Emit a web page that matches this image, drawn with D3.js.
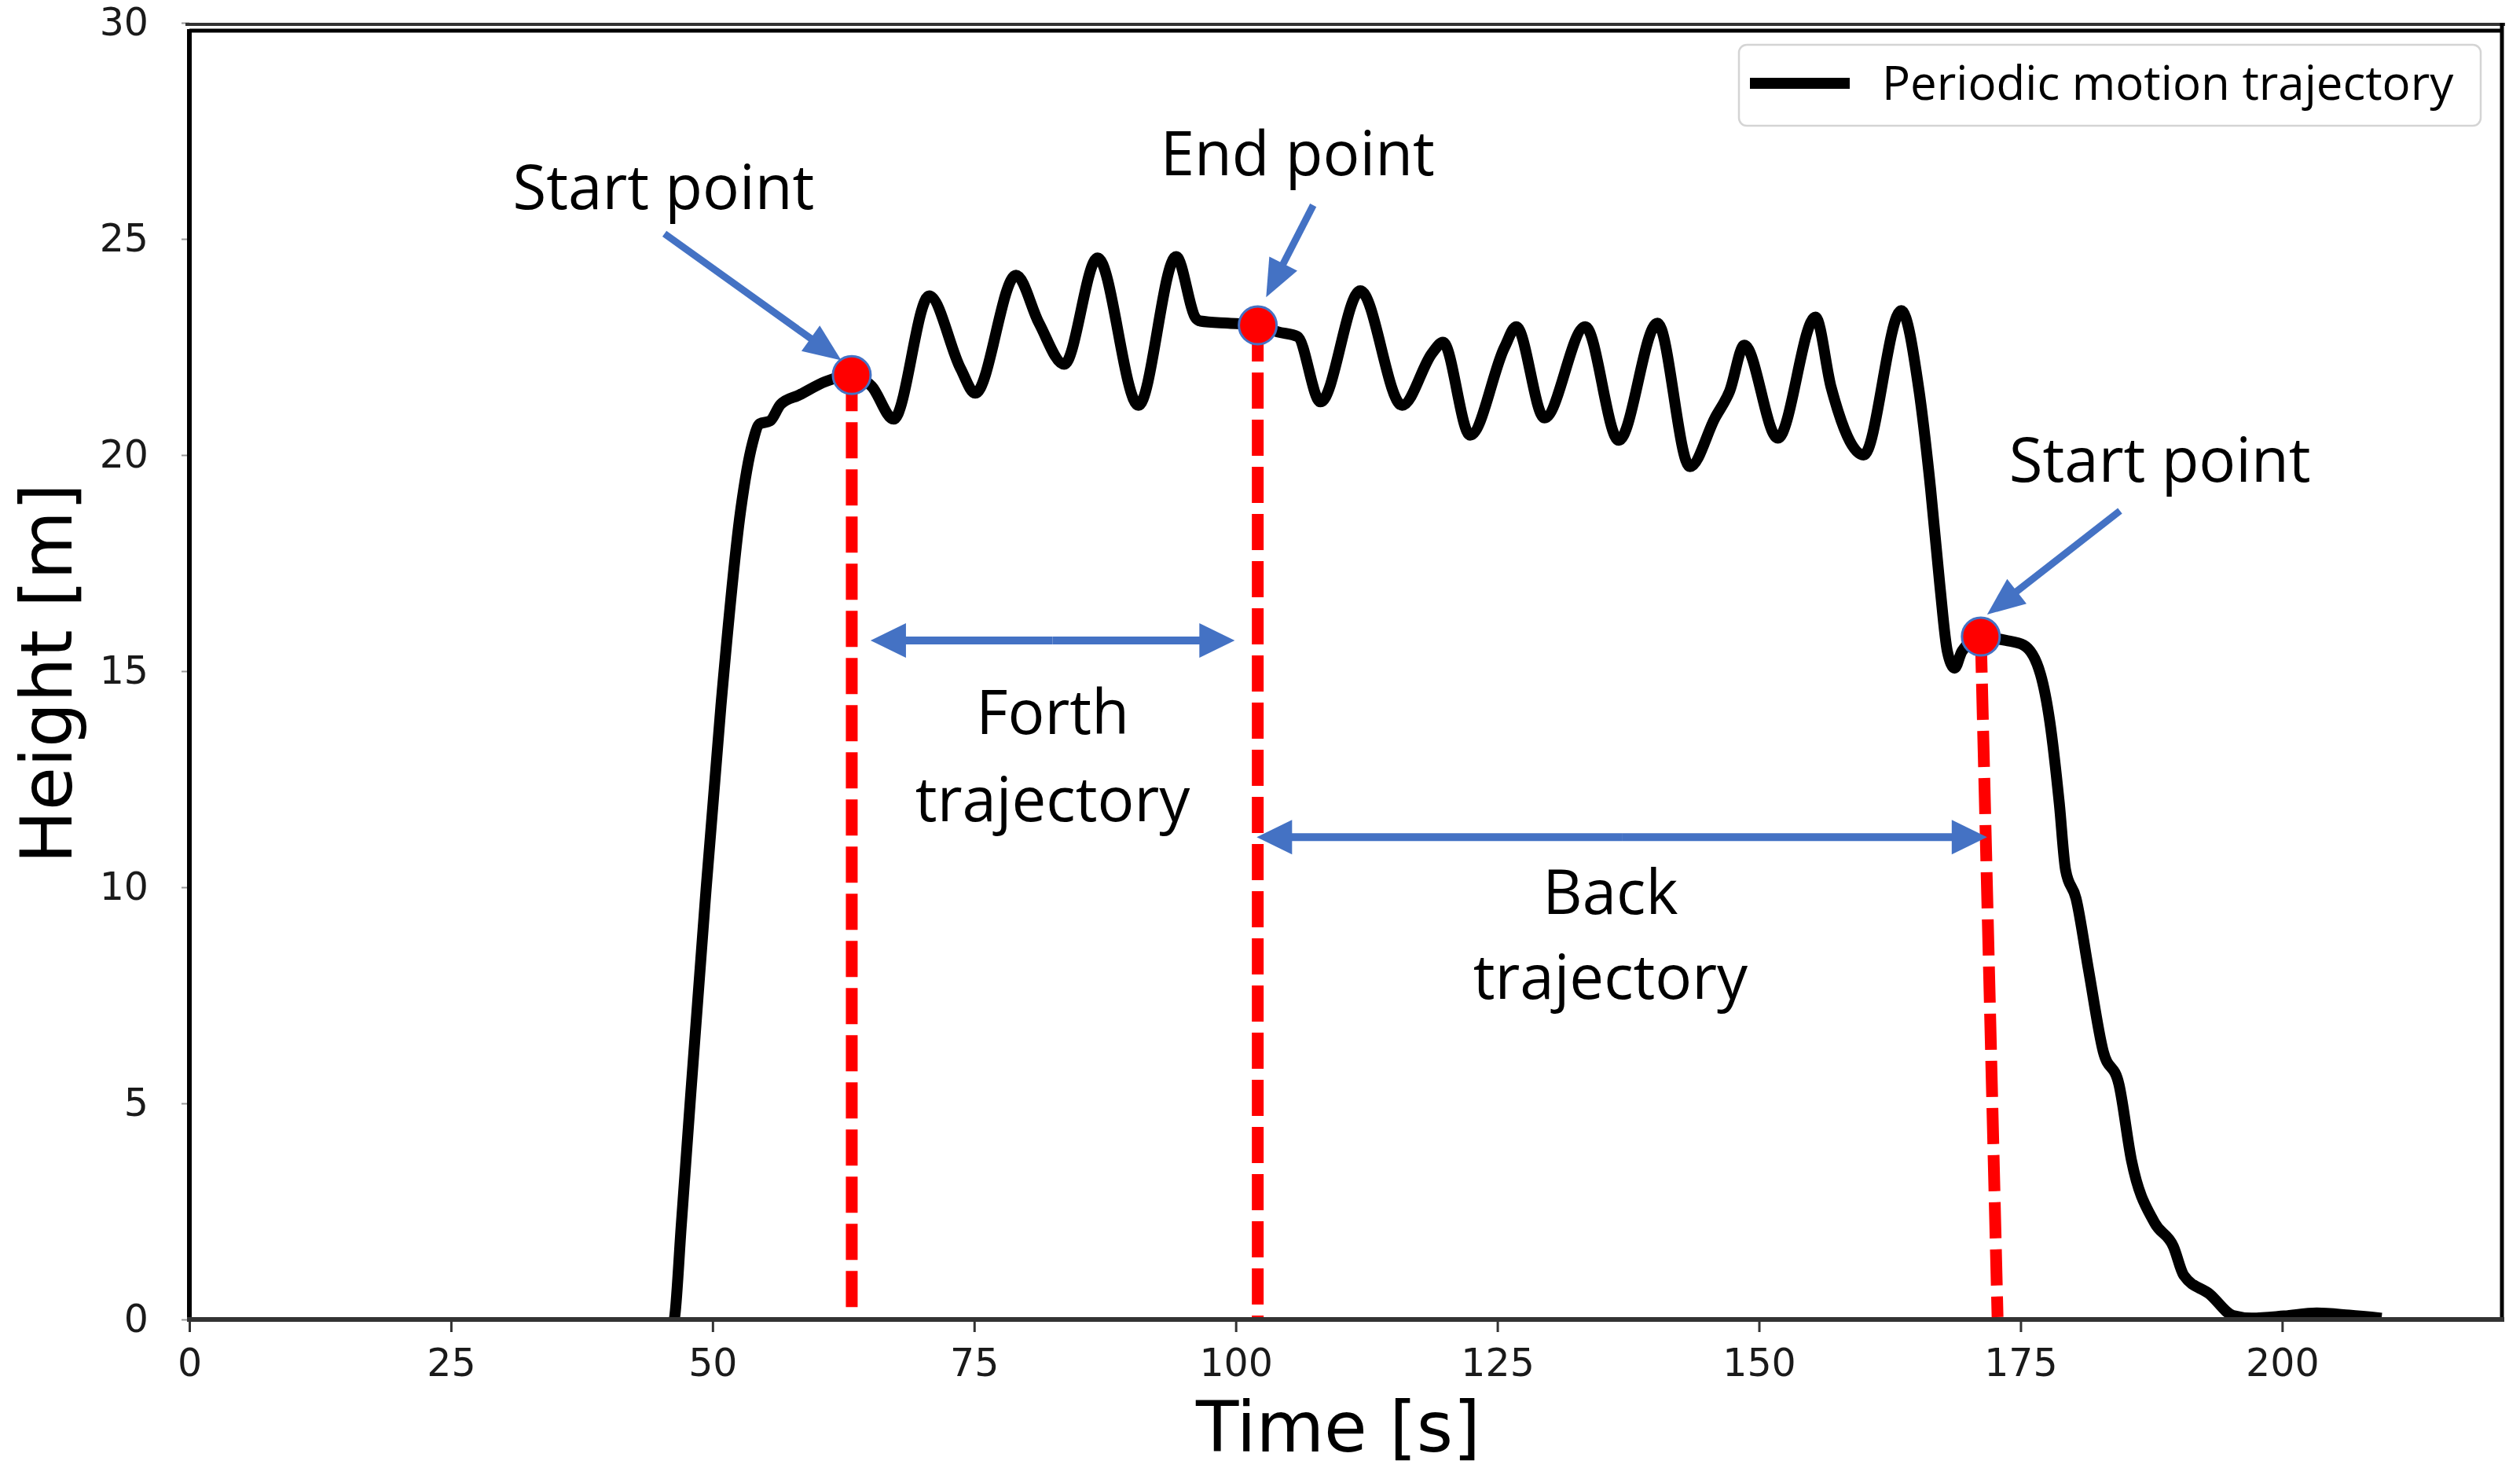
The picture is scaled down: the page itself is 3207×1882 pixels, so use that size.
<!DOCTYPE html>
<html>
<head>
<meta charset="utf-8">
<script src="https://cdn.jsdelivr.net/npm/d3@7"></script>
<style>
  body { margin: 0; background: #fff; }
  svg { display: block; }
</style>
</head>
<body>
<script>
// trajectory (time in s, height in m)
var time = [46.0, 46.4, 47.0, 47.9, 49.3, 50.8, 52.7, 53.8, 54.5, 55.5, 56.5, 58.3, 60.8, 63.3,
  65.2, 67.3, 70.7, 73.7, 75.1, 79.0, 81.2, 83.6, 86.8, 90.7, 94.3, 96.2, 96.6, 99.3, 102.1,
  104.0, 105.9, 108.1, 111.9, 115.9, 118.8, 119.8, 122.4, 125.7, 126.8, 129.5, 133.4, 136.6,
  140.3, 143.4, 145.8, 147.2, 148.6, 151.8, 155.4, 156.9, 160.0, 163.6, 165.3, 166.4, 167.3,
  168.0, 168.7, 169.4, 171.2, 173.6, 175.3, 176.9, 177.8, 178.7, 179.3, 180.3, 181.5, 182.9,
  184.4, 185.6, 187.8, 189.6, 190.6, 193.1, 195.3, 197.1, 200.2, 203.3, 206.4, 209.5];
var height = [-0.3, 0.1, 2.15, 5.17, 9.7, 14.2, 18.75, 20.26, 20.72, 20.79, 21.17, 21.39, 21.7, 21.85,
  21.59, 20.83, 23.68, 22.0, 21.43, 24.16, 23.05, 22.1, 24.56, 21.15, 24.59, 23.16, 23.1, 23.05, 23.01,
  22.85, 22.74, 21.23, 23.8, 21.15, 22.37, 22.61, 20.46, 22.5, 22.97, 20.86, 22.97, 20.34,
  23.05, 19.73, 20.86, 21.48, 22.54, 20.39, 23.19, 21.56, 20.0, 23.34, 21.48, 19.22, 16.95,
  15.46, 15.07, 15.46, 15.78, 15.71, 15.6, 14.93, 13.82, 11.94, 10.4, 9.74, 8.08, 6.2,
  5.44, 3.68, 2.24, 1.69, 1.02, 0.58, 0.09, 0.03, 0.08, 0.15, 0.1, 0.03];

var xTicks = [0, 25, 50, 75, 100, 125, 150, 175, 200];
var yTicks = [0, 5, 10, 15, 20, 25, 30];

// marked points: start, end, start
var markT = [63.3, 102.1, 171.2];
var markH = [21.85, 23.0, 15.8];
// foot of each red dashed line
var footT = [63.3, 102.1, 172.8];

// annotation texts
var labelText = ["Start point", "End point", "Start point", "Forth", "trajectory", "Back", "trajectory"];
var labelT = [30.9, 105.9, 173.9, 82.5, 82.5, 135.8, 135.8];
var labelH = [25.69, 26.47, 19.39, 13.54, 11.52, 9.39, 7.41];
var labelAnchor = ["start", "middle", "start", "middle", "middle", "middle", "middle"];

// pointer arrows [t0, h0, t1, h1]
var pointers = [[45.4, 25.12, 62.3, 22.19], [107.4, 25.78, 102.9, 23.65], [184.5, 18.71, 171.8, 16.31]];
// span arrows [tLeft, tRight, h]
var spans = [[65.1, 99.9, 15.71], [102.0, 171.8, 11.16]];

var legendLabel = "Periodic motion trajectory";

var W = 3207, H = 1882;
var blue = "#4472C4";

var svg = d3.select("body").append("svg")
    .attr("width", W)
    .attr("height", H);

var x = d3.scaleLinear().domain([0, 221]).range([241, 3184]);
var y = d3.scaleLinear().domain([0, 30]).range([1679, 29]);

svg.append("clipPath").attr("id", "plot")
  .append("rect")
    .attr("x", x(0)).attr("y", y(30))
    .attr("width", x(221) - x(0)).attr("height", y(0) - y(30));

// axes
var xAxis = svg.append("g")
    .attr("transform", "translate(0,1679)")
    .call(d3.axisBottom(x).tickValues(xTicks).tickSize(16).tickPadding(21));
xAxis.select(".domain").remove();
xAxis.selectAll("line").attr("stroke", "#333").attr("stroke-width", 3);
xAxis.selectAll("text")
    .style("font-family", "DejaVu Sans")
    .style("font-size", "49px")
    .attr("fill", "#1a1a1a");

var yAxis = svg.append("g")
    .attr("transform", "translate(241,0)")
    .call(d3.axisLeft(y).tickValues(yTicks).tickSize(10).tickPadding(42));
yAxis.select(".domain").remove();
yAxis.selectAll("line").attr("stroke", "#999").attr("stroke-width", 2);
yAxis.selectAll("text")
    .style("font-family", "DejaVu Sans")
    .style("font-size", "49px")
    .attr("fill", "#1a1a1a");

// trajectory
var pts = time.map(function(t, i) { return [t, height[i]]; });
var line = d3.line()
    .x(function(d) { return x(d[0]); })
    .y(function(d) { return y(d[1]); })
    .curve(d3.curveMonotoneX);

svg.append("path")
    .datum(pts)
    .attr("clip-path", "url(#plot)")
    .attr("d", line)
    .attr("fill", "none")
    .attr("stroke", "#000")
    .attr("stroke-width", 14)
    .attr("stroke-linejoin", "round");

// frame (top edge is doubled in the original)
svg.append("line").attr("x1", 236).attr("x2", 3188).attr("y1", 31).attr("y2", 31)
    .attr("stroke", "#333").attr("stroke-width", 4);
svg.append("line").attr("x1", 241).attr("x2", 3184).attr("y1", 39).attr("y2", 39)
    .attr("stroke", "#000").attr("stroke-width", 5);
svg.append("line").attr("x1", 241).attr("x2", 241).attr("y1", 37).attr("y2", 1682)
    .attr("stroke", "#000").attr("stroke-width", 6);
svg.append("line").attr("x1", 3184).attr("x2", 3184).attr("y1", 29).attr("y2", 1682)
    .attr("stroke", "#000").attr("stroke-width", 5);
svg.append("line").attr("x1", 238).attr("x2", 3187).attr("y1", 1679).attr("y2", 1679)
    .attr("stroke", "#333").attr("stroke-width", 6);

// red dashed drops
svg.selectAll("line.drop")
    .data(markT)
  .enter().append("line")
    .attr("class", "drop")
    .attr("x1", function(d) { return x(d); })
    .attr("y1", function(d, i) { return y(markH[i]); })
    .attr("x2", function(d, i) { return x(footT[i]); })
    .attr("y2", y(0) - 3)
    .attr("stroke", "#ff0000")
    .attr("stroke-width", 15)
    .attr("stroke-dasharray", "46,14");

// points
svg.selectAll("circle.mark")
    .data(markT)
  .enter().append("circle")
    .attr("class", "mark")
    .attr("cx", function(d) { return x(d); })
    .attr("cy", function(d, i) { return y(markH[i]); })
    .attr("r", 24)
    .attr("fill", "#ff0000")
    .attr("stroke", blue)
    .attr("stroke-width", 3);

// arrow with filled head at (x1,y1), pixel coords
function arrow(g, x0, y0, x1, y1, width, headLen, headHalf) {
  var dx = x1 - x0, dy = y1 - y0, len = Math.sqrt(dx * dx + dy * dy);
  var ux = dx / len, uy = dy / len;
  var bx = x1 - ux * headLen, by = y1 - uy * headLen;
  g.append("line")
      .attr("x1", x0).attr("y1", y0).attr("x2", bx + ux * 2).attr("y2", by + uy * 2)
      .attr("stroke", blue).attr("stroke-width", width);
  g.append("path")
      .attr("d", "M" + x1 + "," + y1 +
                 "L" + (bx - uy * headHalf) + "," + (by + ux * headHalf) +
                 "L" + (bx + uy * headHalf) + "," + (by - ux * headHalf) + "Z")
      .attr("fill", blue);
}

var arrows = svg.append("g");
pointers.forEach(function(p) {
  arrow(arrows, x(p[0]), y(p[1]), x(p[2]), y(p[3]), 9, 48, 20);
});
spans.forEach(function(s) {
  var mid = (x(s[0]) + x(s[1])) / 2;
  arrow(arrows, mid, y(s[2]), x(s[0]), y(s[2]), 10, 45, 22);
  arrow(arrows, mid, y(s[2]), x(s[1]), y(s[2]), 10, 45, 22);
});

// annotation texts
svg.selectAll("text.note")
    .data(labelText)
  .enter().append("text")
    .attr("class", "note")
    .attr("x", function(d, i) { return x(labelT[i]); })
    .attr("y", function(d, i) { return y(labelH[i]); })
    .attr("text-anchor", function(d, i) { return labelAnchor[i]; })
    .style("font-family", "Open Sans")
    .style("font-size", "78px")
    .attr("fill", "#000")
    .text(function(d) { return d; });

// axis titles
svg.append("text")
    .attr("x", 1703)
    .attr("y", 1847)
    .attr("text-anchor", "middle")
    .style("font-family", "DejaVu Sans")
    .style("font-size", "89px")
    .text("Time [s]");

svg.append("text")
    .attr("transform", "translate(91,857) rotate(-90)")
    .attr("text-anchor", "middle")
    .style("font-family", "DejaVu Sans")
    .style("font-size", "90px")
    .text("Height [m]");

// legend
var legend = svg.append("g");
legend.append("rect")
    .attr("x", 2213).attr("y", 57)
    .attr("width", 944).attr("height", 103)
    .attr("rx", 10)
    .attr("fill", "#fff")
    .attr("stroke", "#d4d4d4")
    .attr("stroke-width", 2.5);
legend.append("line")
    .attr("x1", 2227).attr("x2", 2354).attr("y1", 106).attr("y2", 106)
    .attr("stroke", "#000").attr("stroke-width", 14);
legend.append("text")
    .attr("x", 2395).attr("y", 127)
    .style("font-family", "Open Sans")
    .style("font-size", "60px")
    .text(legendLabel);
</script>
</body>
</html>
